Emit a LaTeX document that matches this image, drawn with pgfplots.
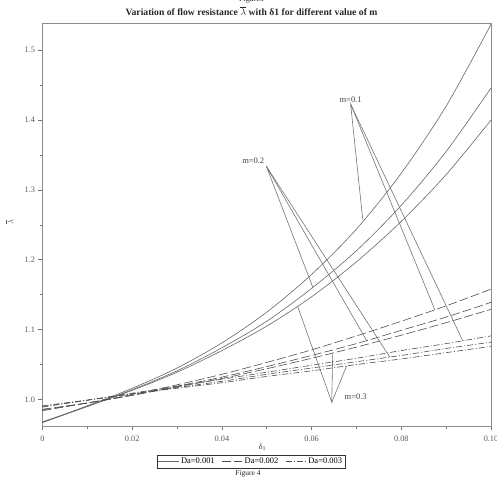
\documentclass[border=0pt]{standalone}
\usepackage{pgfplots}
\pgfplotsset{compat=1.18}
\usepackage{fontspec}
\setmainfont{Liberation Serif}
\begin{document}
\begin{tikzpicture}
\begin{axis}[
  name=ax, at={(0,0)}, anchor=south west,
  scale only axis, width=448.5bp, height=403bp,
  xmin=0, xmax=0.1, ymin=0.962, ymax=1.539,
  xtick={0,0.02,0.04,0.06,0.08,0.1},
  xticklabels={0,0.02,0.04,0.06,0.08,0.10},
  minor xtick={0.01,0.03,0.05,0.07,0.09},
  ytick={1.0,1.1,1.2,1.3,1.4,1.5},
  yticklabels={1.0,1.1,1.2,1.3,1.4,1.5},
  minor ytick={1.05,1.15,1.25,1.35,1.45},
  tick align=outside, tick pos=left,
  major tick length=4bp, minor tick length=2.5bp,
  axis line style={black!45, line width=0.8pt},
  every tick/.style={black!55, line width=0.6pt},
  tick label style={font=\fontsize{8.3}{9}\selectfont, text=black!65},
  xticklabel style={yshift=-2bp},
  legend style={at={(rel axis cs:0.465,-0.088)}, anchor=center, legend columns=3, draw=black!80, line width=0.5pt,
    font=\fontsize{8.5}{9}\selectfont, inner sep=1pt, row sep=-1pt,
    /tikz/every even column/.append style={column sep=5pt}},
  legend image code/.code={\draw[#1] (0cm,0cm) -- (0.72cm,0cm);},
  every axis plot/.append style={line width=0.6pt},
]
% Da = 0.001 (solid), m = 0.1, 0.2, 0.3
\addplot[black!60, smooth] coordinates {(0,0.967)(0.01,0.991)(0.02,1.016)(0.03,1.045)(0.04,1.081)(0.05,1.125)(0.06,1.179)(0.07,1.244)(0.08,1.324)(0.09,1.420)(0.1,1.537)};
\addlegendentry{Da=0.001}
\addplot[black!60, smooth, forget plot] coordinates {(0,0.967)(0.01,0.990)(0.02,1.014)(0.03,1.041)(0.04,1.074)(0.05,1.112)(0.06,1.159)(0.07,1.213)(0.08,1.278)(0.09,1.355)(0.1,1.446)};
\addplot[black!60, smooth, forget plot] coordinates {(0,0.968)(0.01,0.990)(0.02,1.013)(0.03,1.039)(0.04,1.070)(0.05,1.105)(0.06,1.147)(0.07,1.197)(0.08,1.255)(0.09,1.322)(0.1,1.400)};
% Da = 0.002 (dashed)
\addplot[black!70, smooth, dash pattern=on 9bp off 3bp] coordinates {(0,0.984)(0.01,0.995)(0.02,1.007)(0.03,1.021)(0.04,1.036)(0.05,1.053)(0.06,1.071)(0.07,1.091)(0.08,1.112)(0.09,1.134)(0.1,1.158)};
\addlegendentry{Da=0.002}
\addplot[black!70, smooth, dash pattern=on 9bp off 3bp, forget plot] coordinates {(0,0.985)(0.01,0.995)(0.02,1.006)(0.03,1.019)(0.04,1.032)(0.05,1.047)(0.06,1.063)(0.07,1.080)(0.08,1.099)(0.09,1.118)(0.1,1.139)};
\addplot[black!70, smooth, dash pattern=on 9bp off 3bp, forget plot] coordinates {(0,0.986)(0.01,0.995)(0.02,1.006)(0.03,1.018)(0.04,1.030)(0.05,1.044)(0.06,1.059)(0.07,1.075)(0.08,1.092)(0.09,1.110)(0.1,1.129)};
% Da = 0.003 (dash-dot)
\addplot[black!70, smooth, dash pattern=on 6bp off 2bp on 1bp off 2bp] coordinates {(0,0.989)(0.01,0.999)(0.02,1.009)(0.03,1.019)(0.04,1.029)(0.05,1.039)(0.06,1.049)(0.07,1.059)(0.08,1.070)(0.09,1.080)(0.1,1.091)};
\addlegendentry{Da=0.003}
\addplot[black!70, smooth, dash pattern=on 6bp off 2bp on 1bp off 2bp, forget plot] coordinates {(0,0.990)(0.01,0.999)(0.02,1.008)(0.03,1.017)(0.04,1.026)(0.05,1.036)(0.06,1.045)(0.07,1.054)(0.08,1.063)(0.09,1.073)(0.1,1.082)};
\addplot[black!70, smooth, dash pattern=on 6bp off 2bp on 1bp off 2bp, forget plot] coordinates {(0,0.991)(0.01,0.999)(0.02,1.008)(0.03,1.016)(0.04,1.024)(0.05,1.033)(0.06,1.041)(0.07,1.050)(0.08,1.058)(0.09,1.067)(0.1,1.076)};
% annotation leaders
\draw[black!55, line width=0.6pt] (axis cs:0.0714,1.258) -- (axis cs:0.0687,1.423) -- (axis cs:0.0875,1.128);
\draw[black!55, line width=0.6pt] (axis cs:0.0687,1.423) -- (axis cs:0.0937,1.084);
\draw[black!55, line width=0.6pt] (axis cs:0.0603,1.160) -- (axis cs:0.0499,1.334) -- (axis cs:0.0723,1.084);
\draw[black!55, line width=0.6pt] (axis cs:0.0499,1.334) -- (axis cs:0.0774,1.061);
\draw[black!55, line width=0.6pt] (axis cs:0.0569,1.133) -- (axis cs:0.0645,0.996) -- (axis cs:0.0647,1.066);
\draw[black!55, line width=0.6pt] (axis cs:0.0645,0.996) -- (axis cs:0.0678,1.048);
\node[font=\fontsize{8.5}{9}\selectfont, text=black!75, anchor=south, inner sep=1.5pt] at (axis cs:0.0687,1.423) {m=0.1};
\node[font=\fontsize{8.5}{9}\selectfont, text=black!75, anchor=south east, inner sep=1pt] at (axis cs:0.0497,1.336) {m=0.2};
\node[font=\fontsize{8.5}{9}\selectfont, text=black!75, anchor=west] at (axis cs:0.0666,1.004) {m=0.3};
\end{axis}
% axis labels and titles (outside the axis)
\node[font=\fontsize{8.5}{9}\selectfont, text=black!65, rotate=90, anchor=center] at (-33bp,204bp) {$\overline{\lambda}$};
\node[font=\fontsize{8}{9}\selectfont, text=black!75, anchor=center] at (220bp,-21bp) {δ\textsubscript{1}};
\node[font=\bfseries\fontsize{9.7}{11}\selectfont, text=black!85, anchor=base] at (209bp,410bp) {Variation of flow resistance $\overline{\lambda}$ with δ1 for different value of m};
\node[font=\fontsize{8}{9}\selectfont, text=black!85, anchor=base] at (209bp,424bp) {Figure3};
\node[font=\fontsize{7.5}{8}\selectfont, text=black!85, anchor=center] at (205.5bp,-48bp) {Figure 4};
\pgfresetboundingbox
\path[use as bounding box] (-42.5bp,-55bp) rectangle (454.5bp,426bp);
\end{tikzpicture}
\end{document}
